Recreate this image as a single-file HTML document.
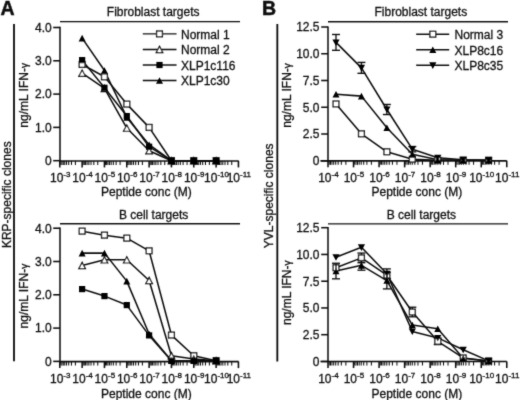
<!DOCTYPE html>
<html><head><meta charset="utf-8"><style>
html,body{margin:0;padding:0;background:#fff;}
svg{display:block;filter:grayscale(1);}
text{font-family:"Liberation Sans",sans-serif;fill:#111;}
</style></head><body>
<svg width="520" height="400" viewBox="0 0 520 400" stroke="#111" fill="none">
<rect x="0" y="0" width="520" height="400" fill="#fff" stroke="none"/>
<defs><filter id="bl" filterUnits="userSpaceOnUse" x="0" y="0" width="520" height="400"><feConvolveMatrix order="3" kernelMatrix="0.02 0.08 0.02 0.08 0.6 0.08 0.02 0.08 0.02" divisor="1" edgeMode="none"/></filter></defs>
<g stroke="#111" filter="url(#bl)">
<text stroke="#111" stroke-width="0.3" x="106.8" y="15.9" font-size="12" text-anchor="start" >Fibroblast targets</text>
<line x1="60" y1="21.6" x2="240" y2="21.6" stroke-width="1.4"/>
<line x1="60" y1="26.8" x2="60" y2="161.5" stroke-width="1.55"/>
<line x1="53.2" y1="160.7" x2="60" y2="160.7" stroke-width="1.55"/>
<text stroke="#111" stroke-width="0.3" x="51.8" y="165" font-size="12" text-anchor="end" >0</text>
<line x1="53.2" y1="127.4" x2="60" y2="127.4" stroke-width="1.55"/>
<text stroke="#111" stroke-width="0.3" x="51.8" y="131.7" font-size="12" text-anchor="end" >1.0</text>
<line x1="53.2" y1="94.1" x2="60" y2="94.1" stroke-width="1.55"/>
<text stroke="#111" stroke-width="0.3" x="51.8" y="98.4" font-size="12" text-anchor="end" >2.0</text>
<line x1="53.2" y1="60.8" x2="60" y2="60.8" stroke-width="1.55"/>
<text stroke="#111" stroke-width="0.3" x="51.8" y="65.1" font-size="12" text-anchor="end" >3.0</text>
<line x1="53.2" y1="27.5" x2="60" y2="27.5" stroke-width="1.55"/>
<text stroke="#111" stroke-width="0.3" x="51.8" y="31.8" font-size="12" text-anchor="end" >4.0</text>
<line x1="60" y1="160.9" x2="238.7" y2="160.9" stroke-width="1.55"/>
<line x1="59.8" y1="160.9" x2="59.8" y2="167.4" stroke-width="1.55"/>
<text stroke="#111" stroke-width="0.3" x="60.2" y="182" font-size="12" text-anchor="middle">10<tspan font-size="8" dy="-5.0">-3</tspan></text>
<line x1="75.41" y1="160.9" x2="75.41" y2="164.9" stroke-width="1.05"/>
<line x1="71.48" y1="160.9" x2="71.48" y2="164.9" stroke-width="1.05"/>
<line x1="68.69" y1="160.9" x2="68.69" y2="164.9" stroke-width="1.05"/>
<line x1="66.52" y1="160.9" x2="66.52" y2="164.9" stroke-width="1.05"/>
<line x1="64.75" y1="160.9" x2="64.75" y2="164.9" stroke-width="1.05"/>
<line x1="63.26" y1="160.9" x2="63.26" y2="164.9" stroke-width="1.05"/>
<line x1="61.96" y1="160.9" x2="61.96" y2="164.9" stroke-width="1.05"/>
<line x1="60.82" y1="160.9" x2="60.82" y2="164.9" stroke-width="1.05"/>
<line x1="82.13" y1="160.9" x2="82.13" y2="167.4" stroke-width="1.55"/>
<text stroke="#111" stroke-width="0.3" x="82.53" y="182" font-size="12" text-anchor="middle">10<tspan font-size="8" dy="-5.0">-4</tspan></text>
<line x1="97.74" y1="160.9" x2="97.74" y2="164.9" stroke-width="1.05"/>
<line x1="93.81" y1="160.9" x2="93.81" y2="164.9" stroke-width="1.05"/>
<line x1="91.02" y1="160.9" x2="91.02" y2="164.9" stroke-width="1.05"/>
<line x1="88.85" y1="160.9" x2="88.85" y2="164.9" stroke-width="1.05"/>
<line x1="87.08" y1="160.9" x2="87.08" y2="164.9" stroke-width="1.05"/>
<line x1="85.59" y1="160.9" x2="85.59" y2="164.9" stroke-width="1.05"/>
<line x1="84.29" y1="160.9" x2="84.29" y2="164.9" stroke-width="1.05"/>
<line x1="83.15" y1="160.9" x2="83.15" y2="164.9" stroke-width="1.05"/>
<line x1="104.46" y1="160.9" x2="104.46" y2="167.4" stroke-width="1.55"/>
<text stroke="#111" stroke-width="0.3" x="104.86" y="182" font-size="12" text-anchor="middle">10<tspan font-size="8" dy="-5.0">-5</tspan></text>
<line x1="120.07" y1="160.9" x2="120.07" y2="164.9" stroke-width="1.05"/>
<line x1="116.14" y1="160.9" x2="116.14" y2="164.9" stroke-width="1.05"/>
<line x1="113.35" y1="160.9" x2="113.35" y2="164.9" stroke-width="1.05"/>
<line x1="111.18" y1="160.9" x2="111.18" y2="164.9" stroke-width="1.05"/>
<line x1="109.41" y1="160.9" x2="109.41" y2="164.9" stroke-width="1.05"/>
<line x1="107.92" y1="160.9" x2="107.92" y2="164.9" stroke-width="1.05"/>
<line x1="106.62" y1="160.9" x2="106.62" y2="164.9" stroke-width="1.05"/>
<line x1="105.48" y1="160.9" x2="105.48" y2="164.9" stroke-width="1.05"/>
<line x1="126.79" y1="160.9" x2="126.79" y2="167.4" stroke-width="1.55"/>
<text stroke="#111" stroke-width="0.3" x="127.19" y="182" font-size="12" text-anchor="middle">10<tspan font-size="8" dy="-5.0">-6</tspan></text>
<line x1="142.4" y1="160.9" x2="142.4" y2="164.9" stroke-width="1.05"/>
<line x1="138.47" y1="160.9" x2="138.47" y2="164.9" stroke-width="1.05"/>
<line x1="135.68" y1="160.9" x2="135.68" y2="164.9" stroke-width="1.05"/>
<line x1="133.51" y1="160.9" x2="133.51" y2="164.9" stroke-width="1.05"/>
<line x1="131.74" y1="160.9" x2="131.74" y2="164.9" stroke-width="1.05"/>
<line x1="130.25" y1="160.9" x2="130.25" y2="164.9" stroke-width="1.05"/>
<line x1="128.95" y1="160.9" x2="128.95" y2="164.9" stroke-width="1.05"/>
<line x1="127.81" y1="160.9" x2="127.81" y2="164.9" stroke-width="1.05"/>
<line x1="149.12" y1="160.9" x2="149.12" y2="167.4" stroke-width="1.55"/>
<text stroke="#111" stroke-width="0.3" x="149.52" y="182" font-size="12" text-anchor="middle">10<tspan font-size="8" dy="-5.0">-7</tspan></text>
<line x1="164.73" y1="160.9" x2="164.73" y2="164.9" stroke-width="1.05"/>
<line x1="160.8" y1="160.9" x2="160.8" y2="164.9" stroke-width="1.05"/>
<line x1="158.01" y1="160.9" x2="158.01" y2="164.9" stroke-width="1.05"/>
<line x1="155.84" y1="160.9" x2="155.84" y2="164.9" stroke-width="1.05"/>
<line x1="154.07" y1="160.9" x2="154.07" y2="164.9" stroke-width="1.05"/>
<line x1="152.58" y1="160.9" x2="152.58" y2="164.9" stroke-width="1.05"/>
<line x1="151.28" y1="160.9" x2="151.28" y2="164.9" stroke-width="1.05"/>
<line x1="150.14" y1="160.9" x2="150.14" y2="164.9" stroke-width="1.05"/>
<line x1="171.45" y1="160.9" x2="171.45" y2="167.4" stroke-width="1.55"/>
<text stroke="#111" stroke-width="0.3" x="171.85" y="182" font-size="12" text-anchor="middle">10<tspan font-size="8" dy="-5.0">-8</tspan></text>
<line x1="187.06" y1="160.9" x2="187.06" y2="164.9" stroke-width="1.05"/>
<line x1="183.13" y1="160.9" x2="183.13" y2="164.9" stroke-width="1.05"/>
<line x1="180.34" y1="160.9" x2="180.34" y2="164.9" stroke-width="1.05"/>
<line x1="178.17" y1="160.9" x2="178.17" y2="164.9" stroke-width="1.05"/>
<line x1="176.4" y1="160.9" x2="176.4" y2="164.9" stroke-width="1.05"/>
<line x1="174.91" y1="160.9" x2="174.91" y2="164.9" stroke-width="1.05"/>
<line x1="173.61" y1="160.9" x2="173.61" y2="164.9" stroke-width="1.05"/>
<line x1="172.47" y1="160.9" x2="172.47" y2="164.9" stroke-width="1.05"/>
<line x1="193.78" y1="160.9" x2="193.78" y2="167.4" stroke-width="1.55"/>
<text stroke="#111" stroke-width="0.3" x="194.18" y="182" font-size="12" text-anchor="middle">10<tspan font-size="8" dy="-5.0">-9</tspan></text>
<line x1="209.39" y1="160.9" x2="209.39" y2="164.9" stroke-width="1.05"/>
<line x1="205.46" y1="160.9" x2="205.46" y2="164.9" stroke-width="1.05"/>
<line x1="202.67" y1="160.9" x2="202.67" y2="164.9" stroke-width="1.05"/>
<line x1="200.5" y1="160.9" x2="200.5" y2="164.9" stroke-width="1.05"/>
<line x1="198.73" y1="160.9" x2="198.73" y2="164.9" stroke-width="1.05"/>
<line x1="197.24" y1="160.9" x2="197.24" y2="164.9" stroke-width="1.05"/>
<line x1="195.94" y1="160.9" x2="195.94" y2="164.9" stroke-width="1.05"/>
<line x1="194.8" y1="160.9" x2="194.8" y2="164.9" stroke-width="1.05"/>
<line x1="216.11" y1="160.9" x2="216.11" y2="167.4" stroke-width="1.55"/>
<text stroke="#111" stroke-width="0.3" x="216.51" y="182" font-size="12" text-anchor="middle">10<tspan font-size="8" dy="-5.0">-10</tspan></text>
<line x1="231.72" y1="160.9" x2="231.72" y2="164.9" stroke-width="1.05"/>
<line x1="227.79" y1="160.9" x2="227.79" y2="164.9" stroke-width="1.05"/>
<line x1="225" y1="160.9" x2="225" y2="164.9" stroke-width="1.05"/>
<line x1="222.83" y1="160.9" x2="222.83" y2="164.9" stroke-width="1.05"/>
<line x1="221.06" y1="160.9" x2="221.06" y2="164.9" stroke-width="1.05"/>
<line x1="219.57" y1="160.9" x2="219.57" y2="164.9" stroke-width="1.05"/>
<line x1="218.27" y1="160.9" x2="218.27" y2="164.9" stroke-width="1.05"/>
<line x1="217.13" y1="160.9" x2="217.13" y2="164.9" stroke-width="1.05"/>
<line x1="238.44" y1="160.9" x2="238.44" y2="167.4" stroke-width="1.55"/>
<text stroke="#111" stroke-width="0.3" x="238.84" y="182" font-size="12" text-anchor="middle">10<tspan font-size="8" dy="-5.0">-11</tspan></text>
<text stroke="#111" stroke-width="0.3" x="101" y="195.5" font-size="12" text-anchor="start" >Peptide conc (M)</text>
<text stroke="#111" stroke-width="0.3" transform="translate(28,95.4) rotate(-90)" font-size="12" text-anchor="middle">ng/mL IFN-<tspan font-size="10">&#947;</tspan></text>
<polyline points="82.13,64.46 104.46,76.78 126.79,104.09 149.12,127.4 171.45,160.7 193.78,160.7 216.11,160.7" fill="none" stroke-width="1.5499999999999998" stroke-linejoin="round"/>
<polyline points="82.13,73.12 104.46,88.44 126.79,128.07 149.12,150.71 171.45,160.7 193.78,160.7 216.11,160.7" fill="none" stroke-width="1.5499999999999998" stroke-linejoin="round"/>
<polyline points="82.13,60.13 104.46,87.77 126.79,116.08 149.12,146.71 171.45,160.7 193.78,160.7 216.11,160.7" fill="none" stroke-width="1.5499999999999998" stroke-linejoin="round"/>
<polyline points="82.13,38.16 104.46,70.46 126.79,117.41 149.12,144.72 171.45,160.7 193.78,160.7 216.11,160.7" fill="none" stroke-width="1.5499999999999998" stroke-linejoin="round"/>
<rect x="79.23" y="61.56" width="5.8" height="5.8" fill="#fff" stroke-width="1.3"/>
<rect x="101.56" y="73.88" width="5.8" height="5.8" fill="#fff" stroke-width="1.3"/>
<rect x="123.89" y="101.19" width="5.8" height="5.8" fill="#fff" stroke-width="1.3"/>
<rect x="146.22" y="124.5" width="5.8" height="5.8" fill="#fff" stroke-width="1.3"/>
<rect x="168.55" y="157.8" width="5.8" height="5.8" fill="#fff" stroke-width="1.3"/>
<rect x="190.88" y="157.8" width="5.8" height="5.8" fill="#fff" stroke-width="1.3"/>
<rect x="213.21" y="157.8" width="5.8" height="5.8" fill="#fff" stroke-width="1.3"/>
<polygon points="82.13,70.02 85.43,76.32 78.83,76.32" fill="#fff" stroke-width="1.2" stroke-linejoin="miter"/>
<polygon points="104.46,85.34 107.76,91.64 101.16,91.64" fill="#fff" stroke-width="1.2" stroke-linejoin="miter"/>
<polygon points="126.79,124.97 130.09,131.27 123.49,131.27" fill="#fff" stroke-width="1.2" stroke-linejoin="miter"/>
<polygon points="149.12,147.61 152.42,153.91 145.82,153.91" fill="#fff" stroke-width="1.2" stroke-linejoin="miter"/>
<polygon points="171.45,157.6 174.75,163.9 168.15,163.9" fill="#fff" stroke-width="1.2" stroke-linejoin="miter"/>
<polygon points="193.78,157.6 197.08,163.9 190.48,163.9" fill="#fff" stroke-width="1.2" stroke-linejoin="miter"/>
<polygon points="216.11,157.6 219.41,163.9 212.81,163.9" fill="#fff" stroke-width="1.2" stroke-linejoin="miter"/>
<rect x="79.03" y="57.03" width="6.2" height="6.2" fill="#000" stroke="none"/>
<rect x="101.36" y="84.67" width="6.2" height="6.2" fill="#000" stroke="none"/>
<rect x="123.69" y="112.98" width="6.2" height="6.2" fill="#000" stroke="none"/>
<rect x="146.02" y="143.61" width="6.2" height="6.2" fill="#000" stroke="none"/>
<rect x="168.35" y="157.6" width="6.2" height="6.2" fill="#000" stroke="none"/>
<rect x="190.68" y="157.6" width="6.2" height="6.2" fill="#000" stroke="none"/>
<rect x="213.01" y="157.6" width="6.2" height="6.2" fill="#000" stroke="none"/>
<polygon points="82.13,34.86 85.63,41.46 78.63,41.46" fill="#000" stroke-width="0" stroke-linejoin="miter"/>
<polygon points="104.46,67.16 107.96,73.76 100.96,73.76" fill="#000" stroke-width="0" stroke-linejoin="miter"/>
<polygon points="126.79,114.11 130.29,120.71 123.29,120.71" fill="#000" stroke-width="0" stroke-linejoin="miter"/>
<polygon points="149.12,141.42 152.62,148.02 145.62,148.02" fill="#000" stroke-width="0" stroke-linejoin="miter"/>
<polygon points="171.45,157.4 174.95,164 167.95,164" fill="#000" stroke-width="0" stroke-linejoin="miter"/>
<polygon points="193.78,157.4 197.28,164 190.28,164" fill="#000" stroke-width="0" stroke-linejoin="miter"/>
<polygon points="216.11,157.4 219.61,164 212.61,164" fill="#000" stroke-width="0" stroke-linejoin="miter"/>
<line x1="142.8" y1="33.9" x2="176.5" y2="33.9" stroke-width="1.4"/>
<rect x="156.6" y="31" width="5.8" height="5.8" fill="#fff" stroke-width="1.3"/>
<text stroke="#111" stroke-width="0.3" x="181" y="38.7" font-size="12" text-anchor="start" >Normal 1</text>
<line x1="142.8" y1="49.5" x2="176.5" y2="49.5" stroke-width="1.4"/>
<polygon points="159.5,46.4 162.8,52.7 156.2,52.7" fill="#fff" stroke-width="1.2" stroke-linejoin="miter"/>
<text stroke="#111" stroke-width="0.3" x="181" y="54.3" font-size="12" text-anchor="start" >Normal 2</text>
<line x1="142.8" y1="65" x2="176.5" y2="65" stroke-width="1.4"/>
<rect x="156.4" y="61.9" width="6.2" height="6.2" fill="#000" stroke="none"/>
<text stroke="#111" stroke-width="0.3" x="181" y="69.8" font-size="12" text-anchor="start" >XLP1c116</text>
<line x1="142.8" y1="80.5" x2="176.5" y2="80.5" stroke-width="1.4"/>
<polygon points="159.5,77.2 163,83.8 156,83.8" fill="#000" stroke-width="0" stroke-linejoin="miter"/>
<text stroke="#111" stroke-width="0.3" x="181" y="85.3" font-size="12" text-anchor="start" >XLP1c30</text>
<text stroke="#111" stroke-width="0.3" x="118.9" y="218.9" font-size="12" text-anchor="start" >B cell targets</text>
<line x1="60" y1="223.7" x2="240" y2="223.7" stroke-width="1.4"/>
<line x1="60" y1="227.5" x2="60" y2="362.2" stroke-width="1.55"/>
<line x1="53.2" y1="361.4" x2="60" y2="361.4" stroke-width="1.55"/>
<text stroke="#111" stroke-width="0.3" x="51.8" y="365.7" font-size="12" text-anchor="end" >0</text>
<line x1="53.2" y1="328.1" x2="60" y2="328.1" stroke-width="1.55"/>
<text stroke="#111" stroke-width="0.3" x="51.8" y="332.4" font-size="12" text-anchor="end" >1.0</text>
<line x1="53.2" y1="294.8" x2="60" y2="294.8" stroke-width="1.55"/>
<text stroke="#111" stroke-width="0.3" x="51.8" y="299.1" font-size="12" text-anchor="end" >2.0</text>
<line x1="53.2" y1="261.5" x2="60" y2="261.5" stroke-width="1.55"/>
<text stroke="#111" stroke-width="0.3" x="51.8" y="265.8" font-size="12" text-anchor="end" >3.0</text>
<line x1="53.2" y1="228.2" x2="60" y2="228.2" stroke-width="1.55"/>
<text stroke="#111" stroke-width="0.3" x="51.8" y="232.5" font-size="12" text-anchor="end" >4.0</text>
<line x1="60" y1="361.6" x2="238.7" y2="361.6" stroke-width="1.55"/>
<line x1="59.8" y1="361.6" x2="59.8" y2="368.1" stroke-width="1.55"/>
<text stroke="#111" stroke-width="0.3" x="60.2" y="382.7" font-size="12" text-anchor="middle">10<tspan font-size="8" dy="-5.0">-3</tspan></text>
<line x1="75.41" y1="361.6" x2="75.41" y2="365.6" stroke-width="1.05"/>
<line x1="71.48" y1="361.6" x2="71.48" y2="365.6" stroke-width="1.05"/>
<line x1="68.69" y1="361.6" x2="68.69" y2="365.6" stroke-width="1.05"/>
<line x1="66.52" y1="361.6" x2="66.52" y2="365.6" stroke-width="1.05"/>
<line x1="64.75" y1="361.6" x2="64.75" y2="365.6" stroke-width="1.05"/>
<line x1="63.26" y1="361.6" x2="63.26" y2="365.6" stroke-width="1.05"/>
<line x1="61.96" y1="361.6" x2="61.96" y2="365.6" stroke-width="1.05"/>
<line x1="60.82" y1="361.6" x2="60.82" y2="365.6" stroke-width="1.05"/>
<line x1="82.13" y1="361.6" x2="82.13" y2="368.1" stroke-width="1.55"/>
<text stroke="#111" stroke-width="0.3" x="82.53" y="382.7" font-size="12" text-anchor="middle">10<tspan font-size="8" dy="-5.0">-4</tspan></text>
<line x1="97.74" y1="361.6" x2="97.74" y2="365.6" stroke-width="1.05"/>
<line x1="93.81" y1="361.6" x2="93.81" y2="365.6" stroke-width="1.05"/>
<line x1="91.02" y1="361.6" x2="91.02" y2="365.6" stroke-width="1.05"/>
<line x1="88.85" y1="361.6" x2="88.85" y2="365.6" stroke-width="1.05"/>
<line x1="87.08" y1="361.6" x2="87.08" y2="365.6" stroke-width="1.05"/>
<line x1="85.59" y1="361.6" x2="85.59" y2="365.6" stroke-width="1.05"/>
<line x1="84.29" y1="361.6" x2="84.29" y2="365.6" stroke-width="1.05"/>
<line x1="83.15" y1="361.6" x2="83.15" y2="365.6" stroke-width="1.05"/>
<line x1="104.46" y1="361.6" x2="104.46" y2="368.1" stroke-width="1.55"/>
<text stroke="#111" stroke-width="0.3" x="104.86" y="382.7" font-size="12" text-anchor="middle">10<tspan font-size="8" dy="-5.0">-5</tspan></text>
<line x1="120.07" y1="361.6" x2="120.07" y2="365.6" stroke-width="1.05"/>
<line x1="116.14" y1="361.6" x2="116.14" y2="365.6" stroke-width="1.05"/>
<line x1="113.35" y1="361.6" x2="113.35" y2="365.6" stroke-width="1.05"/>
<line x1="111.18" y1="361.6" x2="111.18" y2="365.6" stroke-width="1.05"/>
<line x1="109.41" y1="361.6" x2="109.41" y2="365.6" stroke-width="1.05"/>
<line x1="107.92" y1="361.6" x2="107.92" y2="365.6" stroke-width="1.05"/>
<line x1="106.62" y1="361.6" x2="106.62" y2="365.6" stroke-width="1.05"/>
<line x1="105.48" y1="361.6" x2="105.48" y2="365.6" stroke-width="1.05"/>
<line x1="126.79" y1="361.6" x2="126.79" y2="368.1" stroke-width="1.55"/>
<text stroke="#111" stroke-width="0.3" x="127.19" y="382.7" font-size="12" text-anchor="middle">10<tspan font-size="8" dy="-5.0">-6</tspan></text>
<line x1="142.4" y1="361.6" x2="142.4" y2="365.6" stroke-width="1.05"/>
<line x1="138.47" y1="361.6" x2="138.47" y2="365.6" stroke-width="1.05"/>
<line x1="135.68" y1="361.6" x2="135.68" y2="365.6" stroke-width="1.05"/>
<line x1="133.51" y1="361.6" x2="133.51" y2="365.6" stroke-width="1.05"/>
<line x1="131.74" y1="361.6" x2="131.74" y2="365.6" stroke-width="1.05"/>
<line x1="130.25" y1="361.6" x2="130.25" y2="365.6" stroke-width="1.05"/>
<line x1="128.95" y1="361.6" x2="128.95" y2="365.6" stroke-width="1.05"/>
<line x1="127.81" y1="361.6" x2="127.81" y2="365.6" stroke-width="1.05"/>
<line x1="149.12" y1="361.6" x2="149.12" y2="368.1" stroke-width="1.55"/>
<text stroke="#111" stroke-width="0.3" x="149.52" y="382.7" font-size="12" text-anchor="middle">10<tspan font-size="8" dy="-5.0">-7</tspan></text>
<line x1="164.73" y1="361.6" x2="164.73" y2="365.6" stroke-width="1.05"/>
<line x1="160.8" y1="361.6" x2="160.8" y2="365.6" stroke-width="1.05"/>
<line x1="158.01" y1="361.6" x2="158.01" y2="365.6" stroke-width="1.05"/>
<line x1="155.84" y1="361.6" x2="155.84" y2="365.6" stroke-width="1.05"/>
<line x1="154.07" y1="361.6" x2="154.07" y2="365.6" stroke-width="1.05"/>
<line x1="152.58" y1="361.6" x2="152.58" y2="365.6" stroke-width="1.05"/>
<line x1="151.28" y1="361.6" x2="151.28" y2="365.6" stroke-width="1.05"/>
<line x1="150.14" y1="361.6" x2="150.14" y2="365.6" stroke-width="1.05"/>
<line x1="171.45" y1="361.6" x2="171.45" y2="368.1" stroke-width="1.55"/>
<text stroke="#111" stroke-width="0.3" x="171.85" y="382.7" font-size="12" text-anchor="middle">10<tspan font-size="8" dy="-5.0">-8</tspan></text>
<line x1="187.06" y1="361.6" x2="187.06" y2="365.6" stroke-width="1.05"/>
<line x1="183.13" y1="361.6" x2="183.13" y2="365.6" stroke-width="1.05"/>
<line x1="180.34" y1="361.6" x2="180.34" y2="365.6" stroke-width="1.05"/>
<line x1="178.17" y1="361.6" x2="178.17" y2="365.6" stroke-width="1.05"/>
<line x1="176.4" y1="361.6" x2="176.4" y2="365.6" stroke-width="1.05"/>
<line x1="174.91" y1="361.6" x2="174.91" y2="365.6" stroke-width="1.05"/>
<line x1="173.61" y1="361.6" x2="173.61" y2="365.6" stroke-width="1.05"/>
<line x1="172.47" y1="361.6" x2="172.47" y2="365.6" stroke-width="1.05"/>
<line x1="193.78" y1="361.6" x2="193.78" y2="368.1" stroke-width="1.55"/>
<text stroke="#111" stroke-width="0.3" x="194.18" y="382.7" font-size="12" text-anchor="middle">10<tspan font-size="8" dy="-5.0">-9</tspan></text>
<line x1="209.39" y1="361.6" x2="209.39" y2="365.6" stroke-width="1.05"/>
<line x1="205.46" y1="361.6" x2="205.46" y2="365.6" stroke-width="1.05"/>
<line x1="202.67" y1="361.6" x2="202.67" y2="365.6" stroke-width="1.05"/>
<line x1="200.5" y1="361.6" x2="200.5" y2="365.6" stroke-width="1.05"/>
<line x1="198.73" y1="361.6" x2="198.73" y2="365.6" stroke-width="1.05"/>
<line x1="197.24" y1="361.6" x2="197.24" y2="365.6" stroke-width="1.05"/>
<line x1="195.94" y1="361.6" x2="195.94" y2="365.6" stroke-width="1.05"/>
<line x1="194.8" y1="361.6" x2="194.8" y2="365.6" stroke-width="1.05"/>
<line x1="216.11" y1="361.6" x2="216.11" y2="368.1" stroke-width="1.55"/>
<text stroke="#111" stroke-width="0.3" x="216.51" y="382.7" font-size="12" text-anchor="middle">10<tspan font-size="8" dy="-5.0">-10</tspan></text>
<line x1="231.72" y1="361.6" x2="231.72" y2="365.6" stroke-width="1.05"/>
<line x1="227.79" y1="361.6" x2="227.79" y2="365.6" stroke-width="1.05"/>
<line x1="225" y1="361.6" x2="225" y2="365.6" stroke-width="1.05"/>
<line x1="222.83" y1="361.6" x2="222.83" y2="365.6" stroke-width="1.05"/>
<line x1="221.06" y1="361.6" x2="221.06" y2="365.6" stroke-width="1.05"/>
<line x1="219.57" y1="361.6" x2="219.57" y2="365.6" stroke-width="1.05"/>
<line x1="218.27" y1="361.6" x2="218.27" y2="365.6" stroke-width="1.05"/>
<line x1="217.13" y1="361.6" x2="217.13" y2="365.6" stroke-width="1.05"/>
<line x1="238.44" y1="361.6" x2="238.44" y2="368.1" stroke-width="1.55"/>
<text stroke="#111" stroke-width="0.3" x="238.84" y="382.7" font-size="12" text-anchor="middle">10<tspan font-size="8" dy="-5.0">-11</tspan></text>
<text stroke="#111" stroke-width="0.3" x="101" y="397.7" font-size="12" text-anchor="start" >Peptide conc (M)</text>
<text stroke="#111" stroke-width="0.3" transform="translate(28,296.1) rotate(-90)" font-size="12" text-anchor="middle">ng/mL IFN-<tspan font-size="10">&#947;</tspan></text>
<polyline points="82.13,231.16 104.46,235.16 126.79,238.16 149.12,250.81 171.45,335.06 193.78,355.7 216.11,360.7" fill="none" stroke-width="1.5499999999999998" stroke-linejoin="round"/>
<polyline points="82.13,265.46 104.46,259.8 126.79,259.8 149.12,280.45 171.45,355.7 193.78,359.03 216.11,360.7" fill="none" stroke-width="1.5499999999999998" stroke-linejoin="round"/>
<polyline points="82.13,289.11 104.46,296.1 126.79,305.09 149.12,335.39 171.45,360.7 193.78,360.7 216.11,360.7" fill="none" stroke-width="1.5499999999999998" stroke-linejoin="round"/>
<polyline points="82.13,253.14 104.46,253.14 126.79,281.11 149.12,334.06 171.45,360.7 193.78,360.7 216.11,360.7" fill="none" stroke-width="1.5499999999999998" stroke-linejoin="round"/>
<rect x="79.23" y="228.26" width="5.8" height="5.8" fill="#fff" stroke-width="1.3"/>
<rect x="101.56" y="232.26" width="5.8" height="5.8" fill="#fff" stroke-width="1.3"/>
<rect x="123.89" y="235.26" width="5.8" height="5.8" fill="#fff" stroke-width="1.3"/>
<rect x="146.22" y="247.91" width="5.8" height="5.8" fill="#fff" stroke-width="1.3"/>
<rect x="168.55" y="332.16" width="5.8" height="5.8" fill="#fff" stroke-width="1.3"/>
<rect x="190.88" y="352.81" width="5.8" height="5.8" fill="#fff" stroke-width="1.3"/>
<rect x="213.21" y="357.8" width="5.8" height="5.8" fill="#fff" stroke-width="1.3"/>
<polygon points="82.13,262.36 85.43,268.66 78.83,268.66" fill="#fff" stroke-width="1.2" stroke-linejoin="miter"/>
<polygon points="104.46,256.7 107.76,263 101.16,263" fill="#fff" stroke-width="1.2" stroke-linejoin="miter"/>
<polygon points="126.79,256.7 130.09,263 123.49,263" fill="#fff" stroke-width="1.2" stroke-linejoin="miter"/>
<polygon points="149.12,277.35 152.42,283.65 145.82,283.65" fill="#fff" stroke-width="1.2" stroke-linejoin="miter"/>
<polygon points="171.45,352.6 174.75,358.9 168.15,358.9" fill="#fff" stroke-width="1.2" stroke-linejoin="miter"/>
<polygon points="193.78,355.93 197.08,362.23 190.48,362.23" fill="#fff" stroke-width="1.2" stroke-linejoin="miter"/>
<polygon points="216.11,357.6 219.41,363.9 212.81,363.9" fill="#fff" stroke-width="1.2" stroke-linejoin="miter"/>
<rect x="79.03" y="286" width="6.2" height="6.2" fill="#000" stroke="none"/>
<rect x="101.36" y="293" width="6.2" height="6.2" fill="#000" stroke="none"/>
<rect x="123.69" y="301.99" width="6.2" height="6.2" fill="#000" stroke="none"/>
<rect x="146.02" y="332.29" width="6.2" height="6.2" fill="#000" stroke="none"/>
<rect x="168.35" y="357.6" width="6.2" height="6.2" fill="#000" stroke="none"/>
<rect x="190.68" y="357.6" width="6.2" height="6.2" fill="#000" stroke="none"/>
<rect x="213.01" y="357.6" width="6.2" height="6.2" fill="#000" stroke="none"/>
<polygon points="82.13,249.84 85.63,256.44 78.63,256.44" fill="#000" stroke-width="0" stroke-linejoin="miter"/>
<polygon points="104.46,249.84 107.96,256.44 100.96,256.44" fill="#000" stroke-width="0" stroke-linejoin="miter"/>
<polygon points="126.79,277.81 130.29,284.41 123.29,284.41" fill="#000" stroke-width="0" stroke-linejoin="miter"/>
<polygon points="149.12,330.76 152.62,337.36 145.62,337.36" fill="#000" stroke-width="0" stroke-linejoin="miter"/>
<polygon points="171.45,357.4 174.95,364 167.95,364" fill="#000" stroke-width="0" stroke-linejoin="miter"/>
<polygon points="193.78,357.4 197.28,364 190.28,364" fill="#000" stroke-width="0" stroke-linejoin="miter"/>
<polygon points="216.11,357.4 219.61,364 212.61,364" fill="#000" stroke-width="0" stroke-linejoin="miter"/>
<text stroke="#111" stroke-width="0.3" x="374.5" y="15.9" font-size="12" text-anchor="start" >Fibroblast targets</text>
<line x1="328" y1="21.7" x2="508" y2="21.7" stroke-width="1.4"/>
<line x1="328" y1="26.4" x2="328" y2="161.45" stroke-width="1.55"/>
<line x1="321.2" y1="160.75" x2="328" y2="160.75" stroke-width="1.55"/>
<text stroke="#111" stroke-width="0.3" x="319.5" y="165.05" font-size="12" text-anchor="end" >0</text>
<line x1="321.2" y1="134" x2="328" y2="134" stroke-width="1.55"/>
<text stroke="#111" stroke-width="0.3" x="319.5" y="138.3" font-size="12" text-anchor="end" >2.5</text>
<line x1="321.2" y1="107.25" x2="328" y2="107.25" stroke-width="1.55"/>
<text stroke="#111" stroke-width="0.3" x="319.5" y="111.55" font-size="12" text-anchor="end" >5.0</text>
<line x1="321.2" y1="80.5" x2="328" y2="80.5" stroke-width="1.55"/>
<text stroke="#111" stroke-width="0.3" x="319.5" y="84.8" font-size="12" text-anchor="end" >7.5</text>
<line x1="321.2" y1="53.75" x2="328" y2="53.75" stroke-width="1.55"/>
<text stroke="#111" stroke-width="0.3" x="319.5" y="58.05" font-size="12" text-anchor="end" >10.0</text>
<line x1="321.2" y1="27" x2="328" y2="27" stroke-width="1.55"/>
<text stroke="#111" stroke-width="0.3" x="319.5" y="31.3" font-size="12" text-anchor="end" >12.5</text>
<line x1="320.4" y1="160.85" x2="506.8" y2="160.85" stroke-width="1.55"/>
<line x1="328" y1="160.85" x2="328" y2="167.35" stroke-width="1.55"/>
<text stroke="#111" stroke-width="0.3" x="328.4" y="181.95" font-size="12" text-anchor="middle">10<tspan font-size="8" dy="-5.0">-4</tspan></text>
<line x1="345.85" y1="160.85" x2="345.85" y2="164.85" stroke-width="1.05"/>
<line x1="341.35" y1="160.85" x2="341.35" y2="164.85" stroke-width="1.05"/>
<line x1="338.16" y1="160.85" x2="338.16" y2="164.85" stroke-width="1.05"/>
<line x1="335.69" y1="160.85" x2="335.69" y2="164.85" stroke-width="1.05"/>
<line x1="333.67" y1="160.85" x2="333.67" y2="164.85" stroke-width="1.05"/>
<line x1="331.96" y1="160.85" x2="331.96" y2="164.85" stroke-width="1.05"/>
<line x1="330.48" y1="160.85" x2="330.48" y2="164.85" stroke-width="1.05"/>
<line x1="329.17" y1="160.85" x2="329.17" y2="164.85" stroke-width="1.05"/>
<line x1="353.54" y1="160.85" x2="353.54" y2="167.35" stroke-width="1.55"/>
<text stroke="#111" stroke-width="0.3" x="353.94" y="181.95" font-size="12" text-anchor="middle">10<tspan font-size="8" dy="-5.0">-5</tspan></text>
<line x1="371.39" y1="160.85" x2="371.39" y2="164.85" stroke-width="1.05"/>
<line x1="366.89" y1="160.85" x2="366.89" y2="164.85" stroke-width="1.05"/>
<line x1="363.7" y1="160.85" x2="363.7" y2="164.85" stroke-width="1.05"/>
<line x1="361.23" y1="160.85" x2="361.23" y2="164.85" stroke-width="1.05"/>
<line x1="359.21" y1="160.85" x2="359.21" y2="164.85" stroke-width="1.05"/>
<line x1="357.5" y1="160.85" x2="357.5" y2="164.85" stroke-width="1.05"/>
<line x1="356.02" y1="160.85" x2="356.02" y2="164.85" stroke-width="1.05"/>
<line x1="354.71" y1="160.85" x2="354.71" y2="164.85" stroke-width="1.05"/>
<line x1="379.08" y1="160.85" x2="379.08" y2="167.35" stroke-width="1.55"/>
<text stroke="#111" stroke-width="0.3" x="379.48" y="181.95" font-size="12" text-anchor="middle">10<tspan font-size="8" dy="-5.0">-6</tspan></text>
<line x1="396.93" y1="160.85" x2="396.93" y2="164.85" stroke-width="1.05"/>
<line x1="392.43" y1="160.85" x2="392.43" y2="164.85" stroke-width="1.05"/>
<line x1="389.24" y1="160.85" x2="389.24" y2="164.85" stroke-width="1.05"/>
<line x1="386.77" y1="160.85" x2="386.77" y2="164.85" stroke-width="1.05"/>
<line x1="384.75" y1="160.85" x2="384.75" y2="164.85" stroke-width="1.05"/>
<line x1="383.04" y1="160.85" x2="383.04" y2="164.85" stroke-width="1.05"/>
<line x1="381.56" y1="160.85" x2="381.56" y2="164.85" stroke-width="1.05"/>
<line x1="380.25" y1="160.85" x2="380.25" y2="164.85" stroke-width="1.05"/>
<line x1="404.62" y1="160.85" x2="404.62" y2="167.35" stroke-width="1.55"/>
<text stroke="#111" stroke-width="0.3" x="405.02" y="181.95" font-size="12" text-anchor="middle">10<tspan font-size="8" dy="-5.0">-7</tspan></text>
<line x1="422.47" y1="160.85" x2="422.47" y2="164.85" stroke-width="1.05"/>
<line x1="417.97" y1="160.85" x2="417.97" y2="164.85" stroke-width="1.05"/>
<line x1="414.78" y1="160.85" x2="414.78" y2="164.85" stroke-width="1.05"/>
<line x1="412.31" y1="160.85" x2="412.31" y2="164.85" stroke-width="1.05"/>
<line x1="410.29" y1="160.85" x2="410.29" y2="164.85" stroke-width="1.05"/>
<line x1="408.58" y1="160.85" x2="408.58" y2="164.85" stroke-width="1.05"/>
<line x1="407.1" y1="160.85" x2="407.1" y2="164.85" stroke-width="1.05"/>
<line x1="405.79" y1="160.85" x2="405.79" y2="164.85" stroke-width="1.05"/>
<line x1="430.16" y1="160.85" x2="430.16" y2="167.35" stroke-width="1.55"/>
<text stroke="#111" stroke-width="0.3" x="430.56" y="181.95" font-size="12" text-anchor="middle">10<tspan font-size="8" dy="-5.0">-8</tspan></text>
<line x1="448.01" y1="160.85" x2="448.01" y2="164.85" stroke-width="1.05"/>
<line x1="443.51" y1="160.85" x2="443.51" y2="164.85" stroke-width="1.05"/>
<line x1="440.32" y1="160.85" x2="440.32" y2="164.85" stroke-width="1.05"/>
<line x1="437.85" y1="160.85" x2="437.85" y2="164.85" stroke-width="1.05"/>
<line x1="435.83" y1="160.85" x2="435.83" y2="164.85" stroke-width="1.05"/>
<line x1="434.12" y1="160.85" x2="434.12" y2="164.85" stroke-width="1.05"/>
<line x1="432.64" y1="160.85" x2="432.64" y2="164.85" stroke-width="1.05"/>
<line x1="431.33" y1="160.85" x2="431.33" y2="164.85" stroke-width="1.05"/>
<line x1="455.7" y1="160.85" x2="455.7" y2="167.35" stroke-width="1.55"/>
<text stroke="#111" stroke-width="0.3" x="456.1" y="181.95" font-size="12" text-anchor="middle">10<tspan font-size="8" dy="-5.0">-9</tspan></text>
<line x1="473.55" y1="160.85" x2="473.55" y2="164.85" stroke-width="1.05"/>
<line x1="469.05" y1="160.85" x2="469.05" y2="164.85" stroke-width="1.05"/>
<line x1="465.86" y1="160.85" x2="465.86" y2="164.85" stroke-width="1.05"/>
<line x1="463.39" y1="160.85" x2="463.39" y2="164.85" stroke-width="1.05"/>
<line x1="461.37" y1="160.85" x2="461.37" y2="164.85" stroke-width="1.05"/>
<line x1="459.66" y1="160.85" x2="459.66" y2="164.85" stroke-width="1.05"/>
<line x1="458.18" y1="160.85" x2="458.18" y2="164.85" stroke-width="1.05"/>
<line x1="456.87" y1="160.85" x2="456.87" y2="164.85" stroke-width="1.05"/>
<line x1="481.24" y1="160.85" x2="481.24" y2="167.35" stroke-width="1.55"/>
<text stroke="#111" stroke-width="0.3" x="481.64" y="181.95" font-size="12" text-anchor="middle">10<tspan font-size="8" dy="-5.0">-10</tspan></text>
<line x1="499.09" y1="160.85" x2="499.09" y2="164.85" stroke-width="1.05"/>
<line x1="494.59" y1="160.85" x2="494.59" y2="164.85" stroke-width="1.05"/>
<line x1="491.4" y1="160.85" x2="491.4" y2="164.85" stroke-width="1.05"/>
<line x1="488.93" y1="160.85" x2="488.93" y2="164.85" stroke-width="1.05"/>
<line x1="486.91" y1="160.85" x2="486.91" y2="164.85" stroke-width="1.05"/>
<line x1="485.2" y1="160.85" x2="485.2" y2="164.85" stroke-width="1.05"/>
<line x1="483.72" y1="160.85" x2="483.72" y2="164.85" stroke-width="1.05"/>
<line x1="482.41" y1="160.85" x2="482.41" y2="164.85" stroke-width="1.05"/>
<line x1="506.78" y1="160.85" x2="506.78" y2="167.35" stroke-width="1.55"/>
<text stroke="#111" stroke-width="0.3" x="507.18" y="181.95" font-size="12" text-anchor="middle">10<tspan font-size="8" dy="-5.0">-11</tspan></text>
<text stroke="#111" stroke-width="0.3" x="371.5" y="195.55" font-size="12" text-anchor="start" >Peptide conc (M)</text>
<text stroke="#111" stroke-width="0.3" transform="translate(290.8,95.45) rotate(-90)" font-size="12" text-anchor="middle">ng/mL IFN-<tspan font-size="10">&#947;</tspan></text>
<polyline points="336,103.93 361.44,133.79 386.88,151.76 412.32,159.15 437.76,160.22 463.2,160.22 488.64,160.22" fill="none" stroke-width="1.5499999999999998" stroke-linejoin="round"/>
<polyline points="336,94.2 361.44,96.12 386.88,127.69 412.32,154.33 437.76,159.68 463.2,160.22 488.64,160.22" fill="none" stroke-width="1.5499999999999998" stroke-linejoin="round"/>
<polyline points="336,42.41 361.44,67.87 386.88,109.5 412.32,149.19 437.76,157.75 463.2,159.68 488.64,160.22" fill="none" stroke-width="1.5499999999999998" stroke-linejoin="round"/>
<rect x="333.1" y="101.03" width="5.8" height="5.8" fill="#fff" stroke-width="1.3"/>
<rect x="358.54" y="130.89" width="5.8" height="5.8" fill="#fff" stroke-width="1.3"/>
<rect x="383.98" y="148.86" width="5.8" height="5.8" fill="#fff" stroke-width="1.3"/>
<rect x="409.42" y="156.25" width="5.8" height="5.8" fill="#fff" stroke-width="1.3"/>
<rect x="434.86" y="157.31" width="5.8" height="5.8" fill="#fff" stroke-width="1.3"/>
<rect x="460.3" y="157.31" width="5.8" height="5.8" fill="#fff" stroke-width="1.3"/>
<rect x="485.74" y="157.31" width="5.8" height="5.8" fill="#fff" stroke-width="1.3"/>
<polygon points="336,90.9 339.5,97.5 332.5,97.5" fill="#000" stroke-width="0" stroke-linejoin="miter"/>
<polygon points="361.44,92.82 364.94,99.42 357.94,99.42" fill="#000" stroke-width="0" stroke-linejoin="miter"/>
<polygon points="386.88,124.39 390.38,130.99 383.38,130.99" fill="#000" stroke-width="0" stroke-linejoin="miter"/>
<polygon points="412.32,151.03 415.82,157.63 408.82,157.63" fill="#000" stroke-width="0" stroke-linejoin="miter"/>
<polygon points="437.76,156.38 441.26,162.98 434.26,162.98" fill="#000" stroke-width="0" stroke-linejoin="miter"/>
<polygon points="463.2,156.91 466.7,163.52 459.7,163.52" fill="#000" stroke-width="0" stroke-linejoin="miter"/>
<polygon points="488.64,156.91 492.14,163.52 485.14,163.52" fill="#000" stroke-width="0" stroke-linejoin="miter"/>
<line x1="336" y1="34.49" x2="336" y2="50.33" stroke-width="1.35"/>
<line x1="332" y1="34.49" x2="340" y2="34.49" stroke-width="1.35"/>
<line x1="332" y1="50.33" x2="340" y2="50.33" stroke-width="1.35"/>
<polygon points="336,46.01 339.6,39.41 332.4,39.41" fill="#000" stroke="none"/>
<line x1="361.44" y1="62.42" x2="361.44" y2="73.33" stroke-width="1.35"/>
<line x1="357.44" y1="62.42" x2="365.44" y2="62.42" stroke-width="1.35"/>
<line x1="357.44" y1="73.33" x2="365.44" y2="73.33" stroke-width="1.35"/>
<polygon points="361.44,71.47 365.04,64.87 357.84,64.87" fill="#000" stroke="none"/>
<line x1="386.88" y1="104.47" x2="386.88" y2="114.53" stroke-width="1.35"/>
<line x1="382.88" y1="104.47" x2="390.88" y2="104.47" stroke-width="1.35"/>
<line x1="382.88" y1="114.53" x2="390.88" y2="114.53" stroke-width="1.35"/>
<polygon points="386.88,113.1 390.48,106.5 383.28,106.5" fill="#000" stroke="none"/>
<line x1="412.32" y1="146.52" x2="412.32" y2="151.87" stroke-width="1.35"/>
<line x1="408.32" y1="146.52" x2="416.32" y2="146.52" stroke-width="1.35"/>
<line x1="408.32" y1="151.87" x2="416.32" y2="151.87" stroke-width="1.35"/>
<polygon points="412.32,152.79 415.92,146.19 408.72,146.19" fill="#000" stroke="none"/>
<polygon points="437.76,161.35 441.36,154.75 434.16,154.75" fill="#000" stroke="none"/>
<polygon points="463.2,163.28 466.8,156.68 459.6,156.68" fill="#000" stroke="none"/>
<polygon points="488.64,163.81 492.24,157.22 485.04,157.22" fill="#000" stroke="none"/>
<line x1="416.2" y1="34.2" x2="449.2" y2="34.2" stroke-width="1.4"/>
<rect x="429.9" y="31.3" width="5.8" height="5.8" fill="#fff" stroke-width="1.3"/>
<text stroke="#111" stroke-width="0.3" x="454.5" y="39" font-size="12" text-anchor="start" >Normal 3</text>
<line x1="416.2" y1="49.7" x2="449.2" y2="49.7" stroke-width="1.4"/>
<polygon points="432.8,46.4 436.3,53 429.3,53" fill="#000" stroke-width="0" stroke-linejoin="miter"/>
<text stroke="#111" stroke-width="0.3" x="454.5" y="54.5" font-size="12" text-anchor="start" >XLP8c16</text>
<line x1="416.2" y1="65.3" x2="449.2" y2="65.3" stroke-width="1.4"/>
<polygon points="432.8,68.9 436.4,62.3 429.2,62.3" fill="#000" stroke="none"/>
<text stroke="#111" stroke-width="0.3" x="454.5" y="70.1" font-size="12" text-anchor="start" >XLP8c35</text>
<text stroke="#111" stroke-width="0.3" x="386.7" y="218.9" font-size="12" text-anchor="start" >B cell targets</text>
<line x1="328" y1="223.9" x2="508" y2="223.9" stroke-width="1.4"/>
<line x1="328" y1="227.1" x2="328" y2="362.15" stroke-width="1.55"/>
<line x1="321.2" y1="361.45" x2="328" y2="361.45" stroke-width="1.55"/>
<text stroke="#111" stroke-width="0.3" x="319.5" y="365.75" font-size="12" text-anchor="end" >0</text>
<line x1="321.2" y1="334.7" x2="328" y2="334.7" stroke-width="1.55"/>
<text stroke="#111" stroke-width="0.3" x="319.5" y="339" font-size="12" text-anchor="end" >2.5</text>
<line x1="321.2" y1="307.95" x2="328" y2="307.95" stroke-width="1.55"/>
<text stroke="#111" stroke-width="0.3" x="319.5" y="312.25" font-size="12" text-anchor="end" >5.0</text>
<line x1="321.2" y1="281.2" x2="328" y2="281.2" stroke-width="1.55"/>
<text stroke="#111" stroke-width="0.3" x="319.5" y="285.5" font-size="12" text-anchor="end" >7.5</text>
<line x1="321.2" y1="254.45" x2="328" y2="254.45" stroke-width="1.55"/>
<text stroke="#111" stroke-width="0.3" x="319.5" y="258.75" font-size="12" text-anchor="end" >10.0</text>
<line x1="321.2" y1="227.7" x2="328" y2="227.7" stroke-width="1.55"/>
<text stroke="#111" stroke-width="0.3" x="319.5" y="232" font-size="12" text-anchor="end" >12.5</text>
<line x1="320.4" y1="361.55" x2="506.8" y2="361.55" stroke-width="1.55"/>
<line x1="328" y1="361.55" x2="328" y2="368.05" stroke-width="1.55"/>
<text stroke="#111" stroke-width="0.3" x="328.4" y="382.65" font-size="12" text-anchor="middle">10<tspan font-size="8" dy="-5.0">-4</tspan></text>
<line x1="345.85" y1="361.55" x2="345.85" y2="365.55" stroke-width="1.05"/>
<line x1="341.35" y1="361.55" x2="341.35" y2="365.55" stroke-width="1.05"/>
<line x1="338.16" y1="361.55" x2="338.16" y2="365.55" stroke-width="1.05"/>
<line x1="335.69" y1="361.55" x2="335.69" y2="365.55" stroke-width="1.05"/>
<line x1="333.67" y1="361.55" x2="333.67" y2="365.55" stroke-width="1.05"/>
<line x1="331.96" y1="361.55" x2="331.96" y2="365.55" stroke-width="1.05"/>
<line x1="330.48" y1="361.55" x2="330.48" y2="365.55" stroke-width="1.05"/>
<line x1="329.17" y1="361.55" x2="329.17" y2="365.55" stroke-width="1.05"/>
<line x1="353.54" y1="361.55" x2="353.54" y2="368.05" stroke-width="1.55"/>
<text stroke="#111" stroke-width="0.3" x="353.94" y="382.65" font-size="12" text-anchor="middle">10<tspan font-size="8" dy="-5.0">-5</tspan></text>
<line x1="371.39" y1="361.55" x2="371.39" y2="365.55" stroke-width="1.05"/>
<line x1="366.89" y1="361.55" x2="366.89" y2="365.55" stroke-width="1.05"/>
<line x1="363.7" y1="361.55" x2="363.7" y2="365.55" stroke-width="1.05"/>
<line x1="361.23" y1="361.55" x2="361.23" y2="365.55" stroke-width="1.05"/>
<line x1="359.21" y1="361.55" x2="359.21" y2="365.55" stroke-width="1.05"/>
<line x1="357.5" y1="361.55" x2="357.5" y2="365.55" stroke-width="1.05"/>
<line x1="356.02" y1="361.55" x2="356.02" y2="365.55" stroke-width="1.05"/>
<line x1="354.71" y1="361.55" x2="354.71" y2="365.55" stroke-width="1.05"/>
<line x1="379.08" y1="361.55" x2="379.08" y2="368.05" stroke-width="1.55"/>
<text stroke="#111" stroke-width="0.3" x="379.48" y="382.65" font-size="12" text-anchor="middle">10<tspan font-size="8" dy="-5.0">-6</tspan></text>
<line x1="396.93" y1="361.55" x2="396.93" y2="365.55" stroke-width="1.05"/>
<line x1="392.43" y1="361.55" x2="392.43" y2="365.55" stroke-width="1.05"/>
<line x1="389.24" y1="361.55" x2="389.24" y2="365.55" stroke-width="1.05"/>
<line x1="386.77" y1="361.55" x2="386.77" y2="365.55" stroke-width="1.05"/>
<line x1="384.75" y1="361.55" x2="384.75" y2="365.55" stroke-width="1.05"/>
<line x1="383.04" y1="361.55" x2="383.04" y2="365.55" stroke-width="1.05"/>
<line x1="381.56" y1="361.55" x2="381.56" y2="365.55" stroke-width="1.05"/>
<line x1="380.25" y1="361.55" x2="380.25" y2="365.55" stroke-width="1.05"/>
<line x1="404.62" y1="361.55" x2="404.62" y2="368.05" stroke-width="1.55"/>
<text stroke="#111" stroke-width="0.3" x="405.02" y="382.65" font-size="12" text-anchor="middle">10<tspan font-size="8" dy="-5.0">-7</tspan></text>
<line x1="422.47" y1="361.55" x2="422.47" y2="365.55" stroke-width="1.05"/>
<line x1="417.97" y1="361.55" x2="417.97" y2="365.55" stroke-width="1.05"/>
<line x1="414.78" y1="361.55" x2="414.78" y2="365.55" stroke-width="1.05"/>
<line x1="412.31" y1="361.55" x2="412.31" y2="365.55" stroke-width="1.05"/>
<line x1="410.29" y1="361.55" x2="410.29" y2="365.55" stroke-width="1.05"/>
<line x1="408.58" y1="361.55" x2="408.58" y2="365.55" stroke-width="1.05"/>
<line x1="407.1" y1="361.55" x2="407.1" y2="365.55" stroke-width="1.05"/>
<line x1="405.79" y1="361.55" x2="405.79" y2="365.55" stroke-width="1.05"/>
<line x1="430.16" y1="361.55" x2="430.16" y2="368.05" stroke-width="1.55"/>
<text stroke="#111" stroke-width="0.3" x="430.56" y="382.65" font-size="12" text-anchor="middle">10<tspan font-size="8" dy="-5.0">-8</tspan></text>
<line x1="448.01" y1="361.55" x2="448.01" y2="365.55" stroke-width="1.05"/>
<line x1="443.51" y1="361.55" x2="443.51" y2="365.55" stroke-width="1.05"/>
<line x1="440.32" y1="361.55" x2="440.32" y2="365.55" stroke-width="1.05"/>
<line x1="437.85" y1="361.55" x2="437.85" y2="365.55" stroke-width="1.05"/>
<line x1="435.83" y1="361.55" x2="435.83" y2="365.55" stroke-width="1.05"/>
<line x1="434.12" y1="361.55" x2="434.12" y2="365.55" stroke-width="1.05"/>
<line x1="432.64" y1="361.55" x2="432.64" y2="365.55" stroke-width="1.05"/>
<line x1="431.33" y1="361.55" x2="431.33" y2="365.55" stroke-width="1.05"/>
<line x1="455.7" y1="361.55" x2="455.7" y2="368.05" stroke-width="1.55"/>
<text stroke="#111" stroke-width="0.3" x="456.1" y="382.65" font-size="12" text-anchor="middle">10<tspan font-size="8" dy="-5.0">-9</tspan></text>
<line x1="473.55" y1="361.55" x2="473.55" y2="365.55" stroke-width="1.05"/>
<line x1="469.05" y1="361.55" x2="469.05" y2="365.55" stroke-width="1.05"/>
<line x1="465.86" y1="361.55" x2="465.86" y2="365.55" stroke-width="1.05"/>
<line x1="463.39" y1="361.55" x2="463.39" y2="365.55" stroke-width="1.05"/>
<line x1="461.37" y1="361.55" x2="461.37" y2="365.55" stroke-width="1.05"/>
<line x1="459.66" y1="361.55" x2="459.66" y2="365.55" stroke-width="1.05"/>
<line x1="458.18" y1="361.55" x2="458.18" y2="365.55" stroke-width="1.05"/>
<line x1="456.87" y1="361.55" x2="456.87" y2="365.55" stroke-width="1.05"/>
<line x1="481.24" y1="361.55" x2="481.24" y2="368.05" stroke-width="1.55"/>
<text stroke="#111" stroke-width="0.3" x="481.64" y="382.65" font-size="12" text-anchor="middle">10<tspan font-size="8" dy="-5.0">-10</tspan></text>
<line x1="499.09" y1="361.55" x2="499.09" y2="365.55" stroke-width="1.05"/>
<line x1="494.59" y1="361.55" x2="494.59" y2="365.55" stroke-width="1.05"/>
<line x1="491.4" y1="361.55" x2="491.4" y2="365.55" stroke-width="1.05"/>
<line x1="488.93" y1="361.55" x2="488.93" y2="365.55" stroke-width="1.05"/>
<line x1="486.91" y1="361.55" x2="486.91" y2="365.55" stroke-width="1.05"/>
<line x1="485.2" y1="361.55" x2="485.2" y2="365.55" stroke-width="1.05"/>
<line x1="483.72" y1="361.55" x2="483.72" y2="365.55" stroke-width="1.05"/>
<line x1="482.41" y1="361.55" x2="482.41" y2="365.55" stroke-width="1.05"/>
<line x1="506.78" y1="361.55" x2="506.78" y2="368.05" stroke-width="1.55"/>
<text stroke="#111" stroke-width="0.3" x="507.18" y="382.65" font-size="12" text-anchor="middle">10<tspan font-size="8" dy="-5.0">-11</tspan></text>
<text stroke="#111" stroke-width="0.3" x="371.5" y="397.5" font-size="12" text-anchor="start" >Peptide conc (M)</text>
<text stroke="#111" stroke-width="0.3" transform="translate(290.8,292.75) rotate(-90)" font-size="12" text-anchor="middle">ng/mL IFN-<tspan font-size="10">&#947;</tspan></text>
<polyline points="336,267.72 361.44,257.87 386.88,275.21 412.32,312.02 437.76,341.33 463.2,357.92 488.64,360.91" fill="none" stroke-width="1.5499999999999998" stroke-linejoin="round"/>
<polyline points="336,271.03 361.44,265.36 386.88,280.56 412.32,325.07 437.76,328.81 463.2,358.24 488.64,360.91" fill="none" stroke-width="1.5499999999999998" stroke-linejoin="round"/>
<polyline points="336,257.23 361.44,247.28 386.88,273.71 412.32,331.49 437.76,337.91 463.2,349.68 488.64,360.91" fill="none" stroke-width="1.5499999999999998" stroke-linejoin="round"/>
<rect x="333.1" y="264.82" width="5.8" height="5.8" fill="#fff" stroke-width="1.3"/>
<line x1="361.44" y1="253.06" x2="361.44" y2="262.69" stroke-width="1.35"/>
<line x1="357.44" y1="253.06" x2="365.44" y2="253.06" stroke-width="1.35"/>
<line x1="357.44" y1="262.69" x2="365.44" y2="262.69" stroke-width="1.35"/>
<rect x="358.54" y="254.97" width="5.8" height="5.8" fill="#fff" stroke-width="1.3"/>
<rect x="383.98" y="272.31" width="5.8" height="5.8" fill="#fff" stroke-width="1.3"/>
<line x1="412.32" y1="307.2" x2="412.32" y2="316.83" stroke-width="1.35"/>
<line x1="408.32" y1="307.2" x2="416.32" y2="307.2" stroke-width="1.35"/>
<line x1="408.32" y1="316.83" x2="416.32" y2="316.83" stroke-width="1.35"/>
<rect x="409.42" y="309.12" width="5.8" height="5.8" fill="#fff" stroke-width="1.3"/>
<line x1="437.76" y1="338.12" x2="437.76" y2="344.54" stroke-width="1.35"/>
<line x1="433.76" y1="338.12" x2="441.76" y2="338.12" stroke-width="1.35"/>
<line x1="433.76" y1="344.54" x2="441.76" y2="344.54" stroke-width="1.35"/>
<rect x="434.86" y="338.43" width="5.8" height="5.8" fill="#fff" stroke-width="1.3"/>
<rect x="460.3" y="355.02" width="5.8" height="5.8" fill="#fff" stroke-width="1.3"/>
<rect x="485.74" y="358.01" width="5.8" height="5.8" fill="#fff" stroke-width="1.3"/>
<line x1="336" y1="263.22" x2="336" y2="278.85" stroke-width="1.35"/>
<line x1="332" y1="263.22" x2="340" y2="263.22" stroke-width="1.35"/>
<line x1="332" y1="278.85" x2="340" y2="278.85" stroke-width="1.35"/>
<polygon points="336,267.73 339.5,274.33 332.5,274.33" fill="#000" stroke-width="0" stroke-linejoin="miter"/>
<line x1="361.44" y1="260.55" x2="361.44" y2="270.18" stroke-width="1.35"/>
<line x1="357.44" y1="260.55" x2="365.44" y2="260.55" stroke-width="1.35"/>
<line x1="357.44" y1="270.18" x2="365.44" y2="270.18" stroke-width="1.35"/>
<polygon points="361.44,262.06 364.94,268.66 357.94,268.66" fill="#000" stroke-width="0" stroke-linejoin="miter"/>
<line x1="386.88" y1="272.21" x2="386.88" y2="288.9" stroke-width="1.35"/>
<line x1="382.88" y1="272.21" x2="390.88" y2="272.21" stroke-width="1.35"/>
<line x1="382.88" y1="288.9" x2="390.88" y2="288.9" stroke-width="1.35"/>
<polygon points="386.88,277.26 390.38,283.86 383.38,283.86" fill="#000" stroke-width="0" stroke-linejoin="miter"/>
<polygon points="412.32,321.77 415.82,328.37 408.82,328.37" fill="#000" stroke-width="0" stroke-linejoin="miter"/>
<polygon points="437.76,325.51 441.26,332.12 434.26,332.12" fill="#000" stroke-width="0" stroke-linejoin="miter"/>
<polygon points="463.2,354.94 466.7,361.54 459.7,361.54" fill="#000" stroke-width="0" stroke-linejoin="miter"/>
<polygon points="488.64,357.61 492.14,364.21 485.14,364.21" fill="#000" stroke-width="0" stroke-linejoin="miter"/>
<polygon points="336,260.83 339.6,254.23 332.4,254.23" fill="#000" stroke="none"/>
<polygon points="361.44,250.88 365.04,244.28 357.84,244.28" fill="#000" stroke="none"/>
<line x1="386.88" y1="268.9" x2="386.88" y2="278.53" stroke-width="1.35"/>
<line x1="382.88" y1="268.9" x2="390.88" y2="268.9" stroke-width="1.35"/>
<line x1="382.88" y1="278.53" x2="390.88" y2="278.53" stroke-width="1.35"/>
<polygon points="386.88,277.31 390.48,270.71 383.28,270.71" fill="#000" stroke="none"/>
<polygon points="412.32,335.09 415.92,328.49 408.72,328.49" fill="#000" stroke="none"/>
<polygon points="437.76,341.51 441.36,334.91 434.16,334.91" fill="#000" stroke="none"/>
<polygon points="463.2,353.28 466.8,346.68 459.6,346.68" fill="#000" stroke="none"/>
<polygon points="488.64,364.51 492.24,357.91 485.04,357.91" fill="#000" stroke="none"/>
<text stroke="#111" stroke-width="0.5" x="0.4" y="14.9" font-size="19.5" text-anchor="start" font-weight="bold">A</text>
<text stroke="#111" stroke-width="0.5" x="262" y="14.9" font-size="19.5" text-anchor="start" font-weight="bold">B</text>
<line x1="14" y1="24" x2="14" y2="361.2" stroke-width="1.85"/>
<line x1="277.3" y1="24" x2="277.3" y2="361.4" stroke-width="1.85"/>
<text stroke="#111" stroke-width="0.3" transform="translate(10.5,194.7) rotate(-90)" font-size="12" text-anchor="middle">KRP-specific clones</text>
<text stroke="#111" stroke-width="0.3" transform="translate(272.6,195.8) rotate(-90)" font-size="12" text-anchor="middle">YVL-specific clones</text>
</g>
</svg>
</body></html>
